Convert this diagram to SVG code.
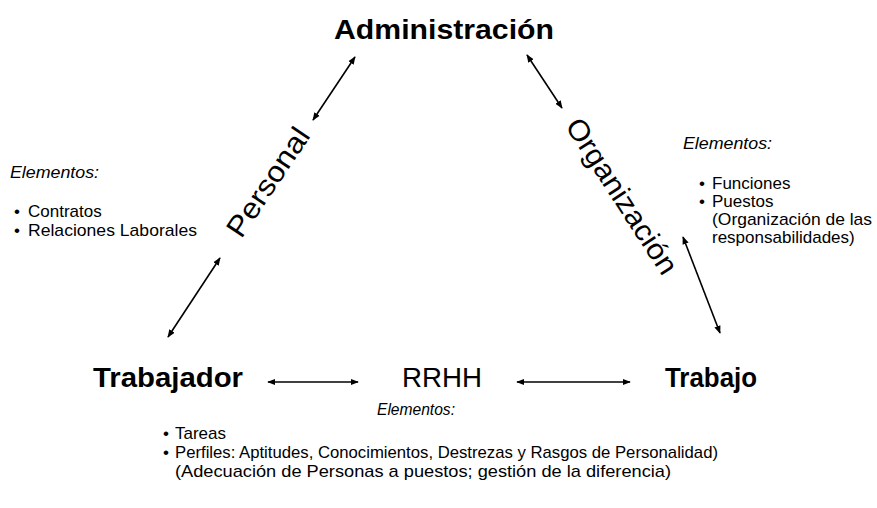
<svg xmlns="http://www.w3.org/2000/svg" width="877" height="508" viewBox="0 0 877 508">
<defs>
<marker id="ah" viewBox="0 0 10 10" refX="9" refY="5" markerWidth="8" markerHeight="8" markerUnits="userSpaceOnUse" orient="auto-start-reverse">
<path d="M0,1 L10,5 L0,9 z" fill="#000"/>
</marker>
<style>
text{font-family:"Liberation Sans",Arial,Helvetica,sans-serif;fill:#000}
.big{font-size:27px;font-weight:bold}
.mid{font-size:27px}
.diag{font-size:29px}
.el{font-size:16px;font-style:italic}
.li{font-size:17px}
.conn line{stroke:#000;stroke-width:1.6;fill:none;marker-start:url(#ah);marker-end:url(#ah)}
</style>
</defs>
<rect width="877" height="508" fill="#fff"/>
<g id="administracion"><text class="big" x="444" y="39" text-anchor="middle" textLength="220" lengthAdjust="spacingAndGlyphs">Administración</text></g>
<g id="trabajador"><text class="big" x="93" y="387" textLength="150" lengthAdjust="spacingAndGlyphs">Trabajador</text></g>
<g id="rrhh"><text class="mid" x="402" y="387" textLength="80" lengthAdjust="spacingAndGlyphs">RRHH</text></g>
<g id="trabajo"><text class="big" x="665" y="387" textLength="92" lengthAdjust="spacingAndGlyphs">Trabajo</text></g>
<g id="personal"><text class="diag" transform="translate(268,182) rotate(-56)" x="0" y="10" text-anchor="middle" textLength="125" lengthAdjust="spacingAndGlyphs">Personal</text></g>
<g id="organizacion"><text class="diag" transform="translate(622,196) rotate(57)" x="0" y="10" text-anchor="middle" textLength="180" lengthAdjust="spacingAndGlyphs">Organización</text></g>
<g id="elementos-personal">
<text class="el" x="10" y="178" textLength="89" lengthAdjust="spacingAndGlyphs">Elementos:</text>
<text class="li" x="14" y="217">•</text><text class="li" x="28" y="217">Contratos</text>
<text class="li" x="14" y="236">•</text><text class="li" x="28" y="236" textLength="169" lengthAdjust="spacingAndGlyphs">Relaciones Laborales</text>
</g>
<g id="elementos-organizacion">
<text class="el" x="683" y="149" textLength="89" lengthAdjust="spacingAndGlyphs">Elementos:</text>
<text class="li" x="699" y="189">•</text><text class="li" x="712" y="189">Funciones</text>
<text class="li" x="699" y="207">•</text><text class="li" x="712" y="207">Puestos</text>
<text class="li" x="712" y="225" textLength="160" lengthAdjust="spacingAndGlyphs">(Organización de las</text>
<text class="li" x="712" y="243">responsabilidades)</text>
</g>
<g id="elementos-rrhh">
<text class="el" x="377" y="415" textLength="78" lengthAdjust="spacingAndGlyphs">Elementos:</text>
<text class="li" x="163" y="439">•</text><text class="li" x="175" y="439">Tareas</text>
<text class="li" x="163" y="458">•</text><text class="li" x="175" y="458" textLength="543" lengthAdjust="spacingAndGlyphs">Perfiles: Aptitudes, Conocimientos, Destrezas y Rasgos de Personalidad)</text>
<text class="li" x="175" y="477" textLength="496" lengthAdjust="spacingAndGlyphs">(Adecuación de Personas a puestos; gestión de la diferencia)</text>
</g>
<g id="connectors" class="conn">
<line x1="355" y1="57" x2="313" y2="120"/>
<line x1="220" y1="258" x2="168" y2="337"/>
<line x1="527" y1="55" x2="562" y2="108"/>
<line x1="683" y1="237" x2="720" y2="333"/>
<line x1="268" y1="382" x2="358" y2="382"/>
<line x1="517" y1="382" x2="630" y2="382"/>
</g>
</svg>
